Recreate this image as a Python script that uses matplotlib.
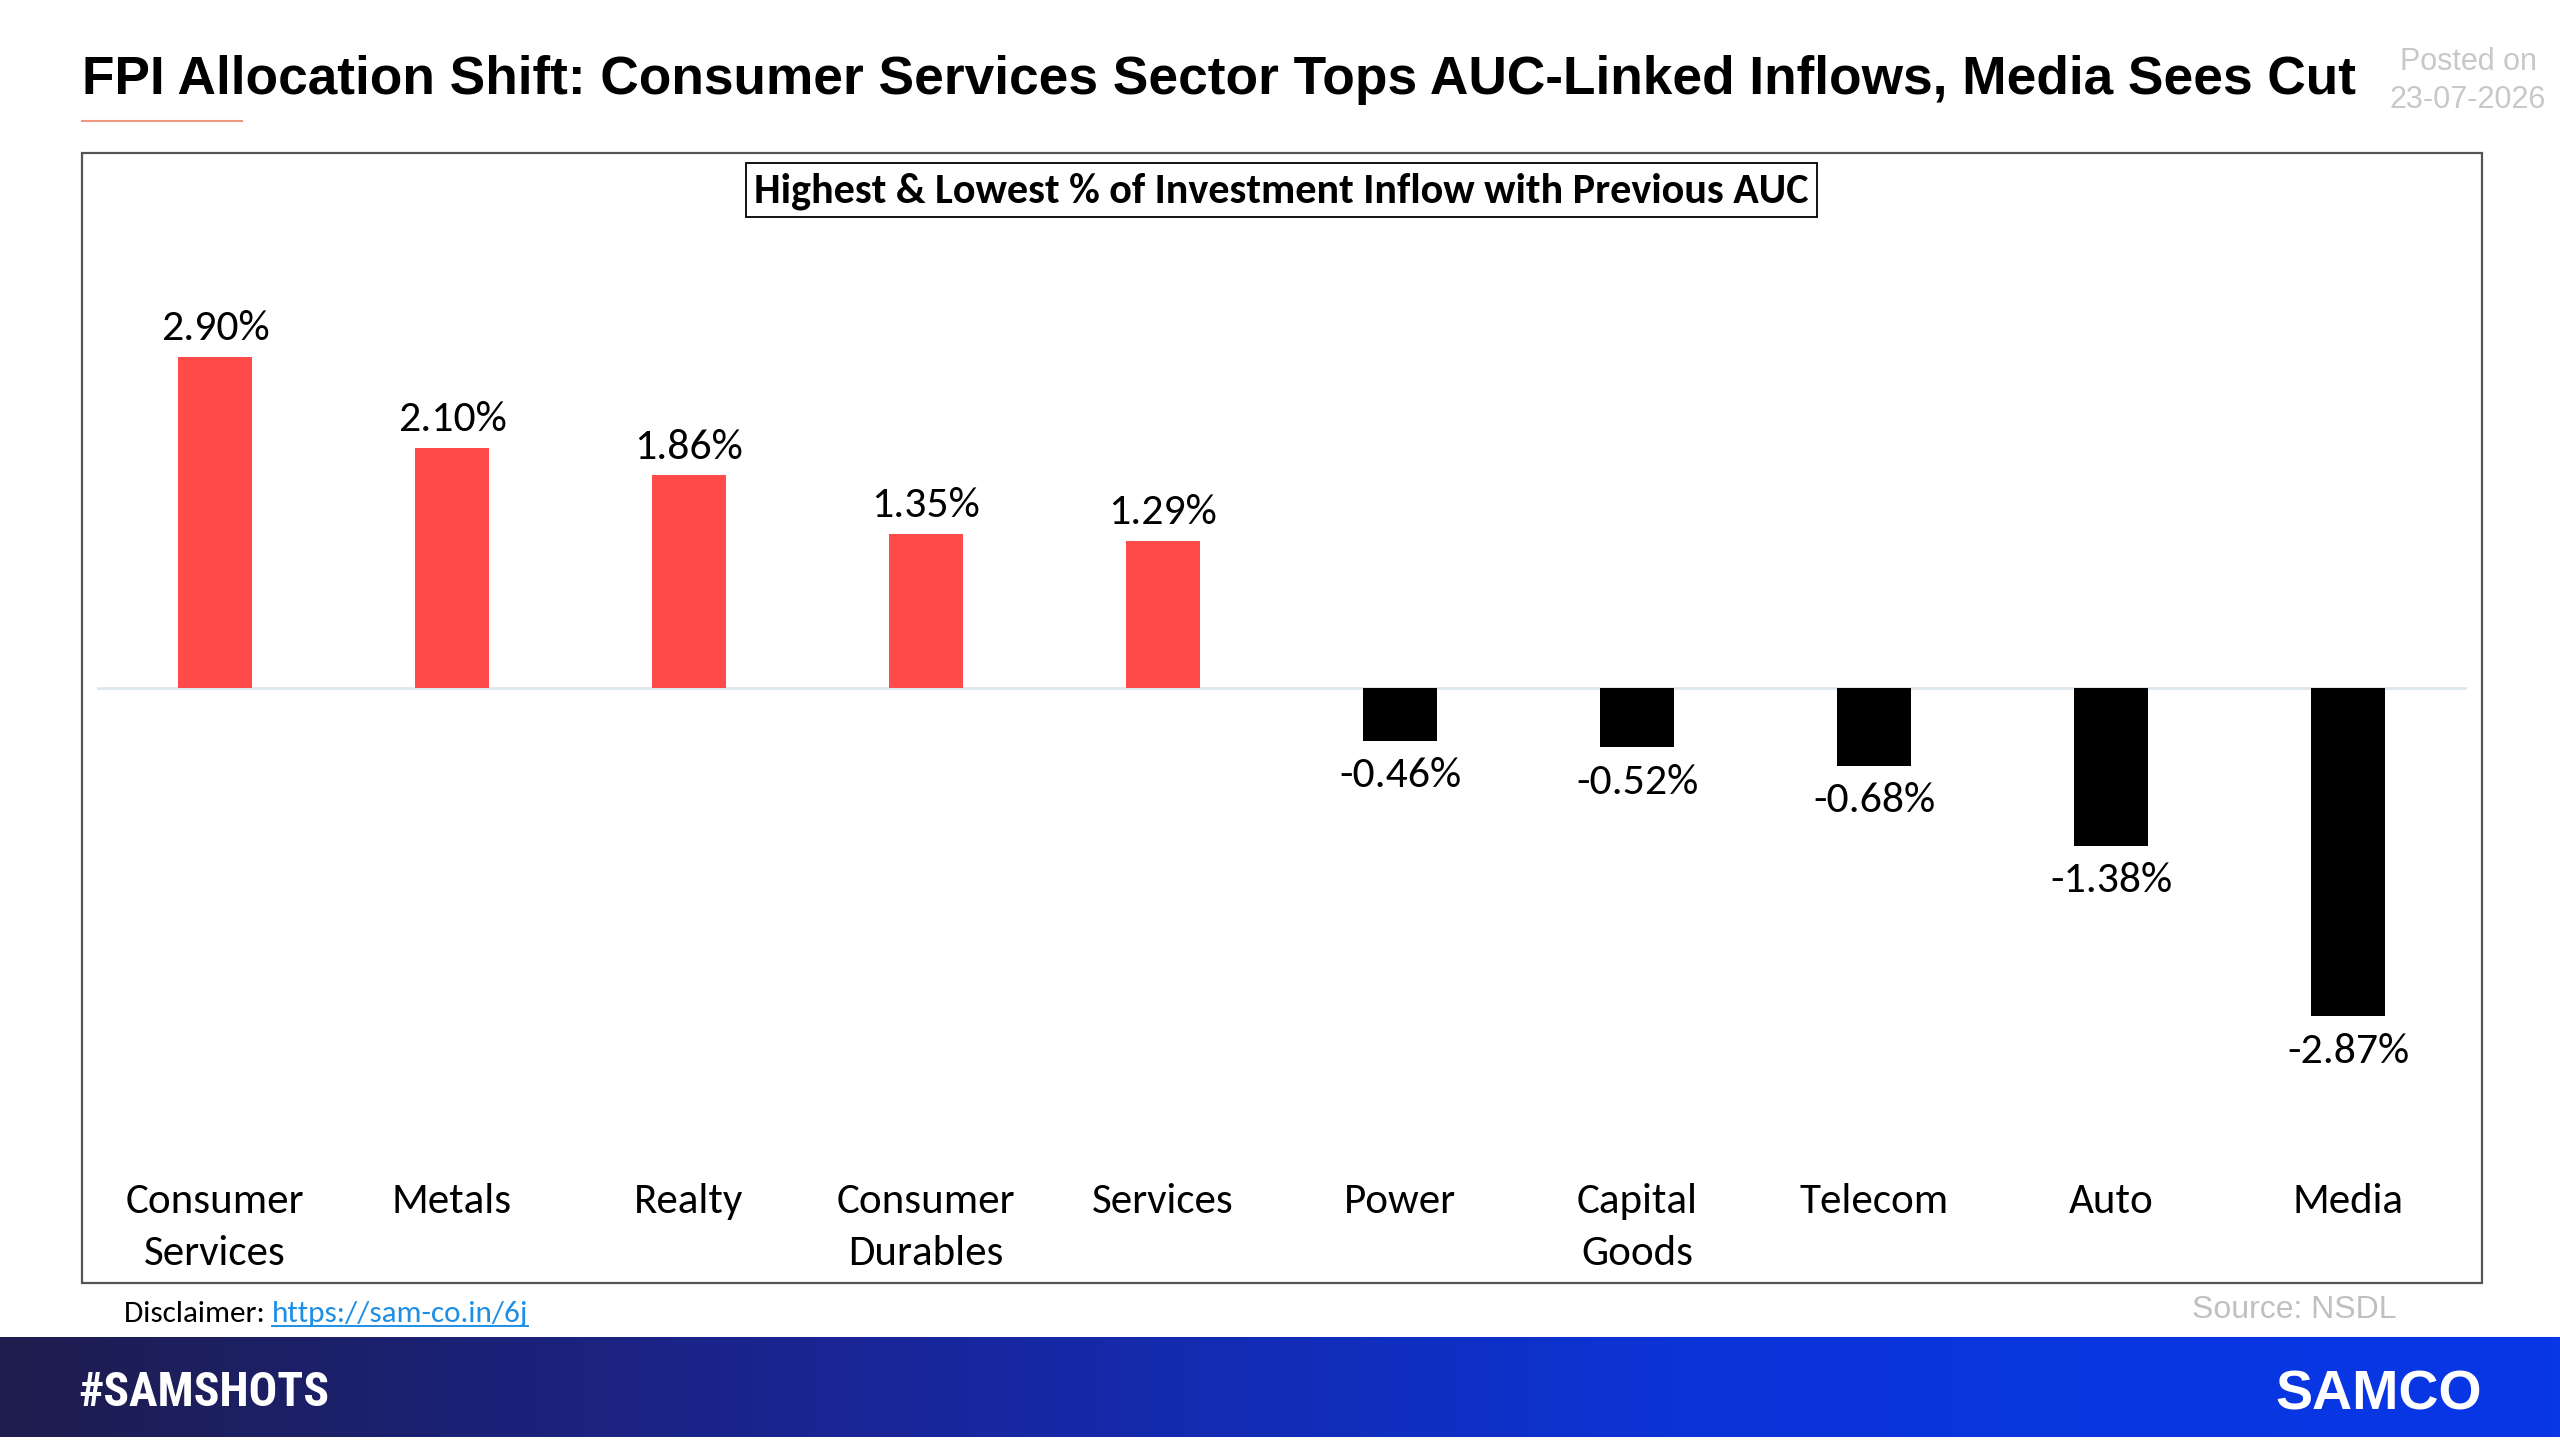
import numpy as np
import matplotlib
matplotlib.use("Agg")
import matplotlib.pyplot as plt
from matplotlib import font_manager
from matplotlib.font_manager import FontProperties
from matplotlib.patches import Rectangle
from matplotlib.colors import LinearSegmentedColormap

# ---------------- data ----------------
categories = ["Consumer\nServices", "Metals", "Realty", "Consumer\nDurables", "Services",
              "Power", "Capital\nGoods", "Telecom", "Auto", "Media"]
values = [2.90, 2.10, 1.86, 1.35, 1.29, -0.46, -0.52, -0.68, -1.38, -2.87]
value_labels = ["2.90%", "2.10%", "1.86%", "1.35%", "1.29%",
                "-0.46%", "-0.52%", "-0.68%", "-1.38%", "-2.87%"]

title = "FPI Allocation Shift: Consumer Services Sector Tops AUC-Linked Inflows, Media Sees Cut"
chart_title = "Highest & Lowest % of Investment Inflow with Previous AUC"
posted = ["Posted on", "23-07-2026"]
source = "Source: NSDL"
disclaimer = "Disclaimer: "
disclaimer_link = "https://sam-co.in/6j"
tag = "#SAMSHOTS"
brand = "SAMCO"

# ---------------- fonts ----------------
flist = font_manager.fontManager.ttflist
avail = {f.name for f in flist}
CAL = "Carlito" if "Carlito" in avail else "Lato"
ARIAL = "Liberation Sans" if "Liberation Sans" in avail else "DejaVu Sans"

# find a condensed / narrow bold face for the #SAMSHOTS tag
cond_fp = None
cond_is_narrow = False
pref = ["Liberation Sans Narrow", "Roboto Condensed", "Open Sans Condensed", "DejaVu Sans"]
for name in pref:
    for f in flist:
        if f.name == name and (f.weight in ("bold", 700) or "Bold" in f.fname) \
                and ("Italic" not in f.fname and "Oblique" not in f.fname):
            if name == "DejaVu Sans" and "Condensed" not in f.fname:
                continue
            cond_fp = FontProperties(fname=f.fname)
            cond_is_narrow = True
            break
    if cond_fp is not None:
        break
if cond_fp is None:
    cond_fp = FontProperties(family=ARIAL, weight="bold")

W, H = 2560, 1440
fig = plt.figure(figsize=(25.6, 14.4), dpi=100)
fig.patch.set_facecolor("white")

def fx(x):
    return x / W

def fy(y):
    return 1 - y / H

# ---------------- header ----------------
fig.text(fx(82), fy(80), title, fontsize=38.3, fontweight="bold", family=ARIAL,
         ha="left", va="center", color="black")
fig.add_artist(plt.Line2D([fx(82), fx(242)], [fy(121), fy(121)], color="#EE9A80", lw=1.5))
fig.text(fx(2468), fy(62), posted[0], fontsize=22, family=ARIAL, color="#C8C8C8",
         ha="center", va="center")
fig.text(fx(2468), fy(100), posted[1], fontsize=22, family=ARIAL, color="#C8C8C8",
         ha="center", va="center")

# outer frame
fig.add_artist(Rectangle((fx(82), fy(1283)), fx(2482) - fx(82), fy(153) - fy(1283),
                         fill=False, edgecolor="#555555", lw=1.6, transform=fig.transFigure))

# chart title box
fig.add_artist(Rectangle((fx(746), fy(217)), fx(1817) - fx(746), fy(163) - fy(217),
                         fill=False, edgecolor="black", lw=1.3, transform=fig.transFigure))
fig.text(fx(1281), fy(191), chart_title, fontsize=30.3, fontweight="bold", family=CAL,
         ha="center", va="center", color="black")

# ---------------- chart ----------------
ax_top, ax_bot = 300, 1150
ax_left, ax_right = 96.5, 2466.5
ax = fig.add_axes([fx(ax_left), fy(ax_bot), (ax_right - ax_left) / W, (ax_bot - ax_top) / H])
ax.set_facecolor("none")
ppu = 114.3  # pixels per 1%
zero_y = 688
ax.set_ylim(-(ax_bot - zero_y) / ppu, (zero_y - ax_top) / ppu)
ax.set_xlim(-0.5, len(categories) - 0.5)

x = np.arange(len(categories))
colors = ["#FF4A4A" if v >= 0 else "#000000" for v in values]
ax.bar(x, values, width=0.31, color=colors, zorder=3)
ax.axhline(0, color="#DDE7EE", lw=2, zorder=2)

for xi, v, lab in zip(x, values, value_labels):
    if v >= 0:
        ax.annotate(lab, (xi, v), xytext=(0, 7), textcoords="offset points",
                    ha="center", va="bottom", fontsize=31.5, family=CAL, color="black")
    else:
        ax.annotate(lab, (xi, v), xytext=(0, -12), textcoords="offset points",
                    ha="center", va="top", fontsize=31.5, family=CAL, color="black")

ax.set_xticks(x)
ax.set_xticklabels(categories, fontsize=31, family=CAL, color="black")
for t in ax.get_xticklabels():
    t.set_linespacing(1.5)
ax.tick_params(axis="x", length=0, pad=24)
ax.set_yticks([])
for s in ax.spines.values():
    s.set_visible(False)

# ---------------- footer ----------------
t1 = fig.text(fx(124), fy(1314), disclaimer, fontsize=22.5, family=CAL, color="black",
              ha="left", va="center")
fig.canvas.draw()
bb = t1.get_window_extent()
tl = fig.text(bb.x1 / W, fy(1314), disclaimer_link, fontsize=22.5, family=CAL, color="#1F8FE6",
              ha="left", va="center")
fig.canvas.draw()
bb2 = tl.get_window_extent()
fig.add_artist(plt.Line2D([bb2.x0 / W, bb2.x1 / W], [(bb2.y0 + 1) / H, (bb2.y0 + 1) / H],
                          color="#1F8FE6", lw=1.4))

fig.text(fx(2397), fy(1310), source, fontsize=23, family=ARIAL, color="#C0C0C0",
         ha="right", va="center")

# banner gradient
bax = fig.add_axes([0, fy(1437), 1, (1437 - 1337) / H])
bax.set_axis_off()
cmap = LinearSegmentedColormap.from_list("band", ["#1E1D4E", "#1A2596", "#0B34D8", "#0837E6"])
grad = np.linspace(0, 1, 512).reshape(1, -1)
bax.imshow(grad, aspect="auto", cmap=cmap, extent=[0, 1, 0, 1])
bax.set_xlim(0, 1)
bax.set_ylim(0, 1)

ttag = fig.text(fx(78), fy(1393), tag, fontproperties=cond_fp, fontsize=40,
                color="white", ha="left", va="center")
fig.canvas.draw()
tw = ttag.get_window_extent().width
target = 250.0
if tw > 0:
    ttag.set_fontsize(40 * min(1.0, target / tw) if not cond_is_narrow else 40 * target / tw)

fig.text(fx(2482), fy(1396), brand, fontsize=40, fontweight="bold", family=ARIAL,
         color="white", ha="right", va="center")

fig.savefig("out.png", dpi=100, facecolor="white")
